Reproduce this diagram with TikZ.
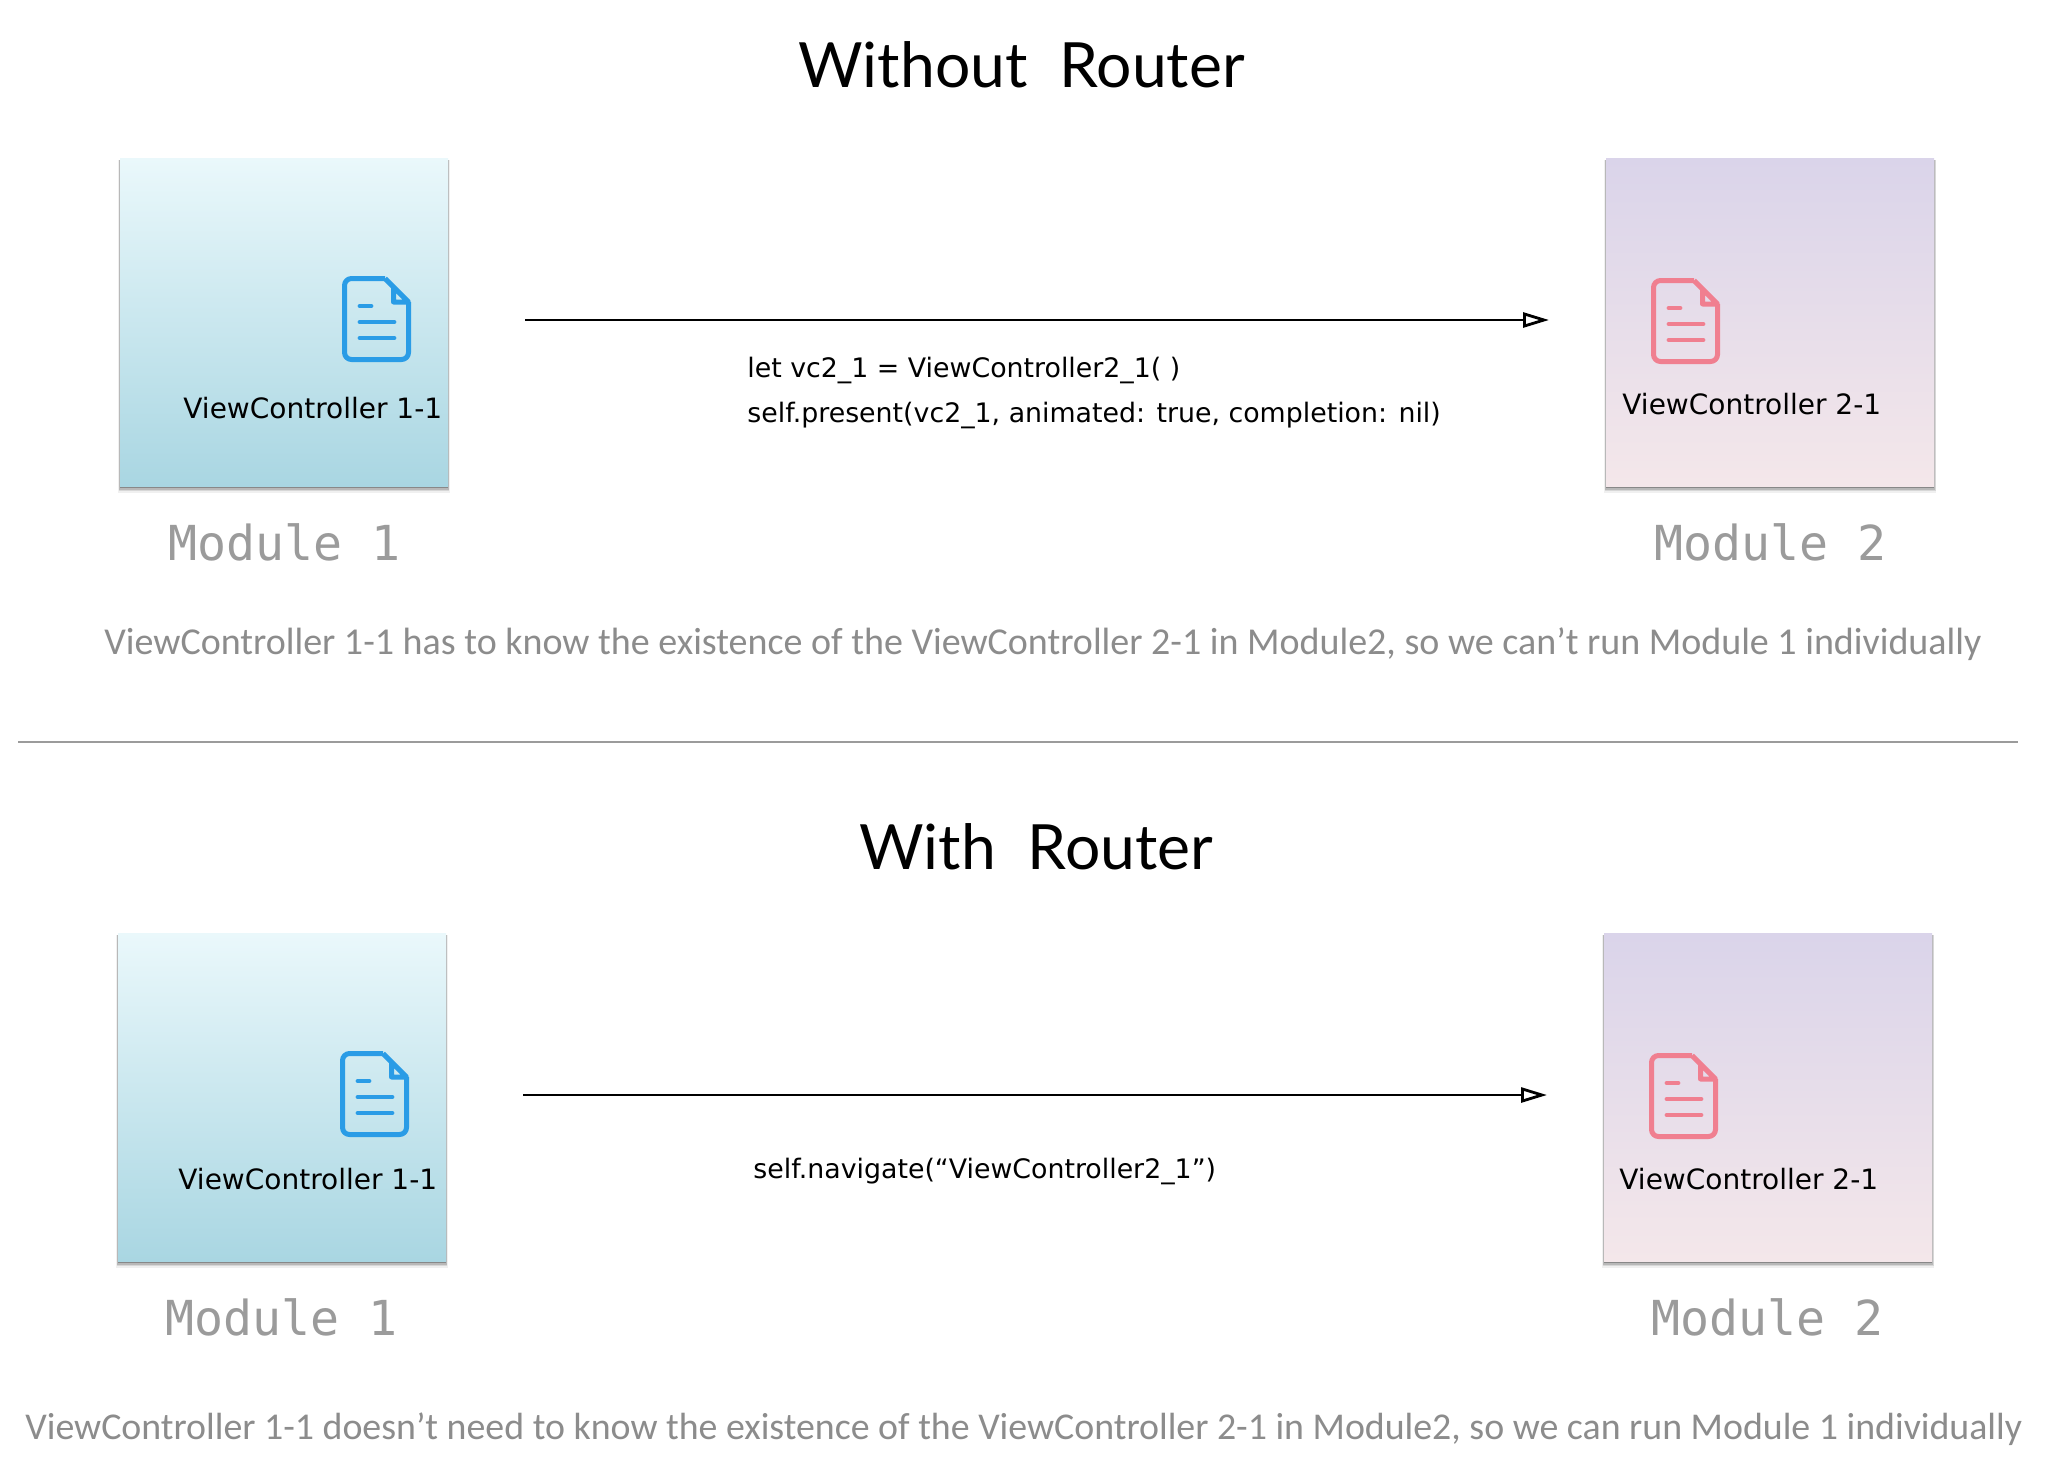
\documentclass[tikz,border=0pt]{standalone}
\usepackage{fontspec}
\usetikzlibrary{arrows.meta,shadows}
\newfontfamily\titlefont{Lato}
\newfontfamily\notefont{Carlito}
\newfontfamily\labelfont{DejaVu Sans}
\newfontfamily\modfont{DejaVu Sans Mono}
\definecolor{docblue}{HTML}{2A9CE6}
\definecolor{docpink}{HTML}{F07F90}
\definecolor{notegray}{HTML}{8C8C8C}
\definecolor{modgray}{HTML}{9B9B9B}
\definecolor{blueTop}{HTML}{EAF8FB}
\definecolor{blueBot}{HTML}{A9D6E2}
\definecolor{pinkTop}{HTML}{DAD4EA}
\definecolor{pinkBot}{HTML}{F4E7EA}
\tikzset{
  modbox/.style={minimum size=164pt,inner sep=0pt,outer sep=0pt,
    drop shadow={shadow xshift=0pt,shadow yshift=-2.2pt,shadow scale=1.014,opacity=.06,fill=black},
    drop shadow={shadow xshift=0pt,shadow yshift=-1.8pt,shadow scale=1.009,opacity=.1,fill=black},
    drop shadow={shadow xshift=0pt,shadow yshift=-1.5pt,shadow scale=1.004,opacity=.14,fill=black},
    drop shadow={shadow xshift=0pt,shadow yshift=-1.2pt,opacity=.26,fill=black}},
  bluebox/.style={modbox,top color=blueTop,bottom color=blueBot},
  pinkbox/.style={modbox,top color=pinkTop,bottom color=pinkBot},
  headtxt/.style={anchor=base west,inner sep=0pt,font=\titlefont\fontsize{31.2}{36}\selectfont},
  notetxt/.style={anchor=base west,inner sep=0pt,text=notegray,font=\notefont\fontsize{19}{22}\selectfont},
  modtxt/.style={anchor=base west,inner sep=0pt,text=modgray,font=\modfont\fontsize{24.1}{28}\selectfont},
  vctxt/.style={anchor=base west,inner sep=0pt,font=\labelfont\fontsize{14}{16}\selectfont},
  codetxt/.style={anchor=base west,inner sep=0pt,font=\labelfont\fontsize{13.4}{15}\selectfont},
  flowline/.style={line width=1.4pt,-{Triangle[open,length=13pt,width=7.5pt,line width=1.4pt]}},
  docicon/.pic={
    \draw[pic actions,line width=2.5pt,line join=round,rounded corners=3.5pt]
      (43,2.5) -- (2.5,2.5) -- (2.5,83.5) -- (66.5,83.5) -- (66.5,26);
    \draw[pic actions,line width=2.5pt,line join=round]
      (43,2.5) -- (66.5,26) -- (51.5,26) -- (51.5,10);
    \draw[pic actions,line width=2.4pt,line cap=round] (18,30) -- (29,30);
    \draw[pic actions,line width=2.4pt,line cap=round] (18,46) -- (52,46);
    \draw[pic actions,line width=2.4pt,line cap=round] (18,62) -- (52,62);
  }
}
\begin{document}
\begin{tikzpicture}[x=0.5pt,y=-0.5pt]
\useasboundingbox[fill=white] (0,0) rectangle (2048,1478);
% without router
\node[headtxt] (headA) at (798,87) {Without\ \ Router};
\node[bluebox] (boxA1) at (284,322) {};
\node[pinkbox] (boxA2) at (1770,322) {};
\pic[draw=docblue] (docA1) at (342,276) {docicon};
\pic[draw=docpink] (docA2) at (1651,278) {docicon};
\node[vctxt] (vcA1) at (183,418.5) {ViewController 1-1};
\node[vctxt] (vcA2) at (1622,414.5) {ViewController 2-1};
\node[modtxt] (modA1) at (168,560.5) {Module 1};
\node[modtxt] (modA2) at (1654,560.5) {Module 2};
\draw[flowline] ([xshift=38.5pt,yshift=1pt]boxA1.east) -- ([xshift=-28.5pt,yshift=1pt]boxA2.west);
\node[codetxt] (codeA1) at (747,377.5) {let vc2\_1 = ViewController2\_1( )};
\node[codetxt] (codeA2) at (747,422.5) {self.present(vc2\_1, animated: true, completion: nil)};
\node[notetxt] (noteA) at (104,654.5) {ViewController 1-1 has to know the existence of the ViewController 2-1 in Module2, so we can’t run Module 1 individually};
% separator
\coordinate (sepL) at (18,742);
\coordinate (sepR) at (2018,742);
\draw[modgray,line width=1pt] (sepL) -- (sepR);
% with router
\node[headtxt] (headB) at (859,869) {With\ \ Router};
\node[bluebox] (boxB1) at (282,1097) {};
\node[pinkbox] (boxB2) at (1768,1097) {};
\pic[draw=docblue] (docB1) at (340,1051) {docicon};
\pic[draw=docpink] (docB2) at (1649,1053) {docicon};
\node[vctxt] (vcB1) at (178,1189.5) {ViewController 1-1};
\node[vctxt] (vcB2) at (1619,1189.5) {ViewController 2-1};
\node[modtxt] (modB1) at (165,1335.5) {Module 1};
\node[modtxt] (modB2) at (1651,1335.5) {Module 2};
\draw[flowline] ([xshift=38.5pt,yshift=1pt]boxB1.east) -- ([xshift=-28.5pt,yshift=1pt]boxB2.west);
\node[codetxt] (codeB) at (753,1178.5) {self.navigate(“ViewController2\_1”)};
\node[notetxt,font=\notefont\fontsize{18.93}{22}\selectfont] (noteB) at (25,1439) {ViewController 1-1 doesn’t need to know the existence of the ViewController 2-1 in Module2, so we can run Module 1 individually};
\end{tikzpicture}
\end{document}
